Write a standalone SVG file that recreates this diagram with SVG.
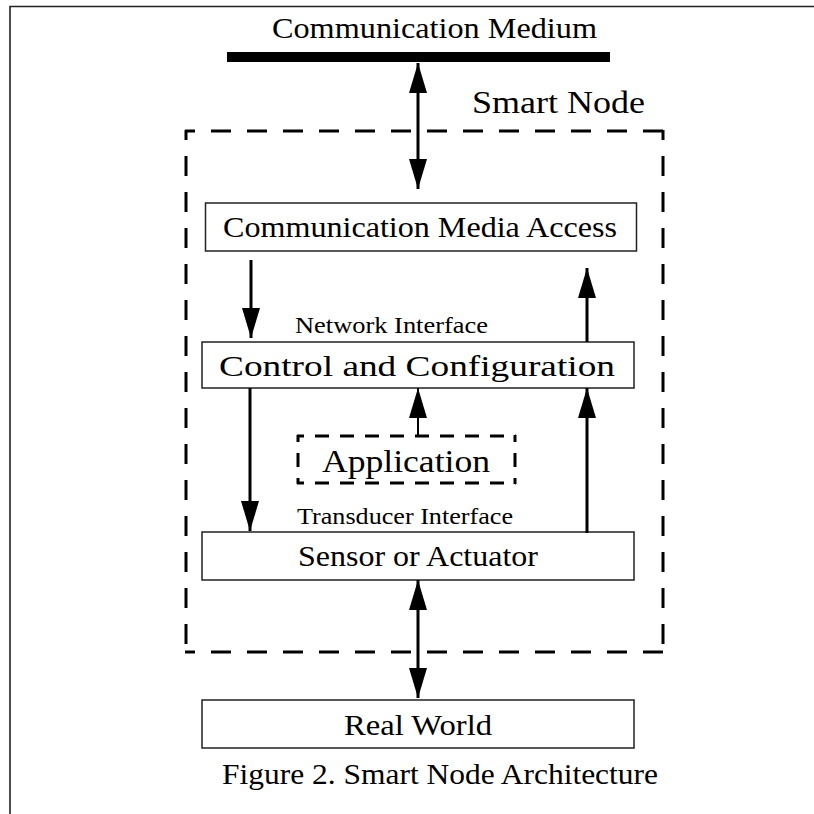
<svg xmlns="http://www.w3.org/2000/svg" width="814" height="814" viewBox="0 0 814 814">
  <style>
    .t { font-family: "Liberation Serif", "Times New Roman", serif; fill: #000; }
    .box { fill: #fff; stroke: #222; stroke-width: 1.5; }
    .arr { stroke: #000; stroke-width: 3; fill: none; }
    .thin { stroke: #000; stroke-width: 2; fill: none; }
    .dash { stroke: #000; stroke-width: 3; fill: none; stroke-dasharray: 20 16; stroke-dashoffset: 10; }
    .dash2 { stroke: #000; stroke-width: 3; fill: none; stroke-dasharray: 14 11; stroke-dashoffset: 7; }
  </style>
  <defs>
    <marker id="ah" markerUnits="userSpaceOnUse" markerWidth="30" markerHeight="18" refX="30" refY="9" orient="auto-start-reverse">
      <path d="M0,0 L30,9 L0,18 z" fill="#000"/>
    </marker>
  </defs>
  <rect width="814" height="814" fill="#fff"/>
  <!-- page frame -->
  <path d="M10,814 V6.5 H814" fill="none" stroke="#222" stroke-width="1.6"/>

  <g id="medium">
    <rect x="227" y="52" width="383" height="10" fill="#000"/>
    <text class="t" x="272" y="38" font-size="30" textLength="325" lengthAdjust="spacingAndGlyphs">Communication Medium</text>
  </g>

  <g id="smart-node">
    <line class="dash" x1="185" y1="131" x2="664" y2="131"/>
    <line class="dash" x1="663" y1="130" x2="663" y2="653"/>
    <line class="dash" x1="186" y1="130" x2="186" y2="653"/>
    <line class="dash" x1="185" y1="652" x2="664" y2="652"/>
    <text class="t" x="472" y="113" font-size="32" textLength="173" lengthAdjust="spacingAndGlyphs">Smart Node</text>
  </g>

  <g id="cma">
    <rect class="box" x="205.5" y="203" width="431" height="48"/>
    <text class="t" x="223" y="237" font-size="30" textLength="394" lengthAdjust="spacingAndGlyphs">Communication Media Access</text>
  </g>

  <g id="network-interface">
    <text class="t" x="295" y="333" font-size="23" textLength="193" lengthAdjust="spacingAndGlyphs">Network Interface</text>
  </g>

  <g id="control">
    <rect class="box" x="202" y="342" width="432" height="46"/>
    <text class="t" x="219" y="376" font-size="30" textLength="396" lengthAdjust="spacingAndGlyphs">Control and Configuration</text>
  </g>

  <g id="application">
    <line class="dash2" x1="297" y1="436" x2="516" y2="436"/>
    <line class="dash2" x1="515" y1="435" x2="515" y2="484"/>
    <line class="dash2" x1="298" y1="435" x2="298" y2="484"/>
    <line class="dash2" x1="297" y1="483" x2="516" y2="483"/>
    <text class="t" x="322" y="472" font-size="32" textLength="168" lengthAdjust="spacingAndGlyphs">Application</text>
  </g>

  <g id="transducer-interface">
    <text class="t" x="297" y="524" font-size="23" textLength="216" lengthAdjust="spacingAndGlyphs">Transducer Interface</text>
  </g>

  <g id="sensor">
    <rect class="box" x="202" y="532" width="432" height="48"/>
    <text class="t" x="298" y="566" font-size="30" textLength="240" lengthAdjust="spacingAndGlyphs">Sensor or Actuator</text>
  </g>

  <g id="real-world">
    <rect class="box" x="202" y="700" width="432" height="48"/>
    <text class="t" x="344" y="735" font-size="30" textLength="148" lengthAdjust="spacingAndGlyphs">Real World</text>
  </g>

  <g id="caption">
    <text class="t" x="222" y="784" font-size="30" textLength="436" lengthAdjust="spacingAndGlyphs">Figure 2. Smart Node Architecture</text>
  </g>

  <g id="connectors">
    <line class="arr" x1="418" y1="63" x2="418" y2="189" marker-start="url(#ah)" marker-end="url(#ah)"/>
    <line class="arr" x1="251" y1="260" x2="251" y2="338" marker-end="url(#ah)"/>
    <line class="arr" x1="587" y1="342" x2="587" y2="268" marker-end="url(#ah)"/>
    <line class="arr" x1="250" y1="388" x2="250" y2="531" marker-end="url(#ah)"/>
    <line class="thin" x1="418" y1="435" x2="418" y2="388" marker-end="url(#ah)"/>
    <line class="arr" x1="587" y1="533" x2="587" y2="388" marker-end="url(#ah)"/>
    <line class="arr" x1="418" y1="580" x2="418" y2="698" marker-start="url(#ah)" marker-end="url(#ah)"/>
  </g>
</svg>
